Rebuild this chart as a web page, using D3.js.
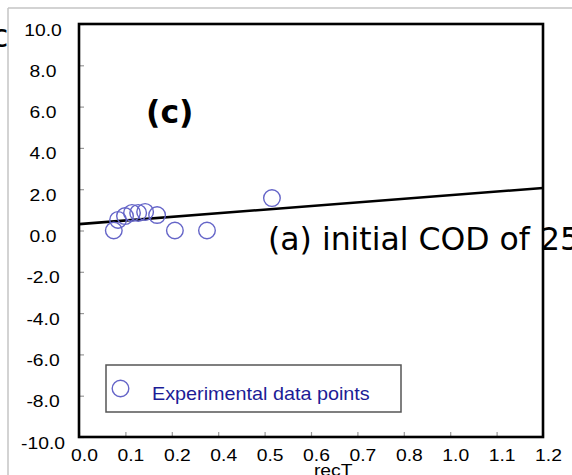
<!DOCTYPE html>
<html>
<head>
<meta charset="utf-8">
<script src="https://cdn.jsdelivr.net/npm/d3@7"></script>
<style>
  html, body { margin: 0; padding: 0; background: #fff; }
  svg { display: block; }
</style>
</head>
<body>
<svg id="chart" width="572" height="475"></svg>
<script>
// ---- data ----
const recT = [0.090, 0.101, 0.119, 0.137, 0.153, 0.171, 0.202, 0.248, 0.331, 0.499];
const lnK  = [0.00, 0.51, 0.70, 0.85, 0.85, 0.90, 0.75, 0.00, 0.00, 1.57];
const fitX = [0.0, 1.2];
const fitY = [0.31, 2.06];
const xTickValues = [0, 0.12, 0.24, 0.36, 0.48, 0.60, 0.72, 0.84, 0.96, 1.08, 1.20];
const xTickLabels = ["0.0","0.1","0.2","0.4","0.5","0.6","0.7","0.8","1.0","1.1","1.2"];
const yTickValues = [-10, -8, -6, -4, -2, 0, 2, 4, 6, 8, 10];
const yTickLabels = ["-10.0","-8.0","-6.0","-4.0","-2.0","0.0","2.0","4.0","6.0","8.0","10.0"];
const xTitle = "recT";
const panelLabel = "(c)";
const legendLabel = "Experimental data points";
const overlayText = "(a) initial COD of 25";

// ---- layout ----
const svg = d3.select("#chart");
const L = 79, R = 543, T = 24, B = 437;
const SX = 1.17; // horizontal stretch of original chart text
const x = d3.scaleLinear().domain([0, 1.2]).range([L, R]);
const y = d3.scaleLinear().domain([-10, 10]).range([B, T]);
const ptColor = "#6565c8";
const tickFont = "'Liberation Sans', Arial, sans-serif";

// outer grey border of the screenshot
svg.append("line").attr("x1", 8).attr("y1", 8).attr("x2", 572).attr("y2", 8)
  .attr("stroke", "#c4c4c4").attr("stroke-width", 1.5);
svg.append("line").attr("x1", 8).attr("y1", 8).attr("x2", 8).attr("y2", 475)
  .attr("stroke", "#c4c4c4").attr("stroke-width", 1.5);

// stray caption fragment at left edge
svg.append("text").attr("x", -9).attr("y", 47)
  .attr("font-family", "'DejaVu Sans', sans-serif").attr("font-size", 31.5)
  .attr("fill", "#000").text("c");

// x axis
const xAxis = d3.axisBottom(x).tickValues(xTickValues)
  .tickFormat((d, i) => xTickLabels[i]).tickSizeInner(-5).tickSizeOuter(0);
const gx = svg.append("g").attr("transform", `translate(0,${B})`).call(xAxis);
gx.select(".domain").remove();
gx.selectAll(".tick line").attr("stroke", "#999").attr("stroke-width", 1.2);
gx.selectAll(".tick text")
  .attr("font-family", tickFont).attr("font-size", 16.5).attr("fill", "#000")
  .attr("text-anchor", "middle").attr("dy", null)
  .attr("x", 5 / SX).attr("y", 24)
  .attr("transform", `scale(${SX},1)`);

// y axis
const yAxis = d3.axisLeft(y).tickValues(yTickValues)
  .tickFormat((d, i) => yTickLabels[i]).tickSizeInner(-5).tickSizeOuter(0);
const gy = svg.append("g").attr("transform", `translate(${L},0)`).call(yAxis);
gy.select(".domain").remove();
gy.selectAll(".tick line").attr("stroke", "#999").attr("stroke-width", 1.2);
gy.selectAll(".tick text")
  .attr("font-family", tickFont).attr("font-size", 16.5).attr("fill", "#000")
  .attr("text-anchor", "middle").attr("dy", null)
  .attr("x", -36 / SX).attr("y", 11)
  .attr("transform", `scale(${SX},1)`);

// x title
svg.append("text")
  .attr("transform", `translate(${(x(0.6) + x(0.72)) / 2 - 1},476) scale(${SX},1)`)
  .attr("text-anchor", "middle")
  .attr("font-family", tickFont).attr("font-size", 16.5).attr("fill", "#000")
  .text(xTitle);

// fitted line
svg.append("path")
  .datum(fitX.map((d, i) => [d, fitY[i]]))
  .attr("d", d3.line().x(d => x(d[0])).y(d => y(d[1])))
  .attr("fill", "none").attr("stroke", "#000").attr("stroke-width", 2.6);

// data points
svg.append("g").selectAll("circle")
  .data(recT.map((d, i) => ({ x: d, y: lnK[i] })))
  .join("circle")
  .attr("cx", d => x(d.x)).attr("cy", d => y(d.y)).attr("r", 8.3)
  .attr("fill", "none").attr("stroke", ptColor).attr("stroke-width", 1.4);

// panel label
svg.append("text").attr("x", 146).attr("y", 123)
  .attr("font-family", "'DejaVu Sans', sans-serif").attr("font-weight", "bold")
  .attr("font-size", 31.5).attr("fill", "#000").text(panelLabel);

// legend
const lg = svg.append("g");
lg.append("rect").attr("x", 106).attr("y", 365).attr("width", 295).attr("height", 47)
  .attr("fill", "#fff").attr("stroke", "#555").attr("stroke-width", 1.5);
lg.append("circle").attr("cx", 120.5).attr("cy", 388.5).attr("r", 8.3)
  .attr("fill", "none").attr("stroke", ptColor).attr("stroke-width", 1.4);
lg.append("text")
  .attr("transform", `translate(152,400) scale(1.1,1)`)
  .attr("font-family", tickFont).attr("font-size", 18).attr("fill", "#1c1c96")
  .text(legendLabel);

// overlay caption text
svg.append("text").attr("x", 268).attr("y", 250)
  .attr("font-family", "'DejaVu Sans', sans-serif").attr("font-size", 31.5)
  .attr("fill", "#000").text(overlayText);

// plot frame
svg.append("rect").attr("x", L).attr("y", T).attr("width", R - L).attr("height", B - T)
  .attr("fill", "none").attr("stroke", "#000").attr("stroke-width", 2.6);
</script>
</body>
</html>
